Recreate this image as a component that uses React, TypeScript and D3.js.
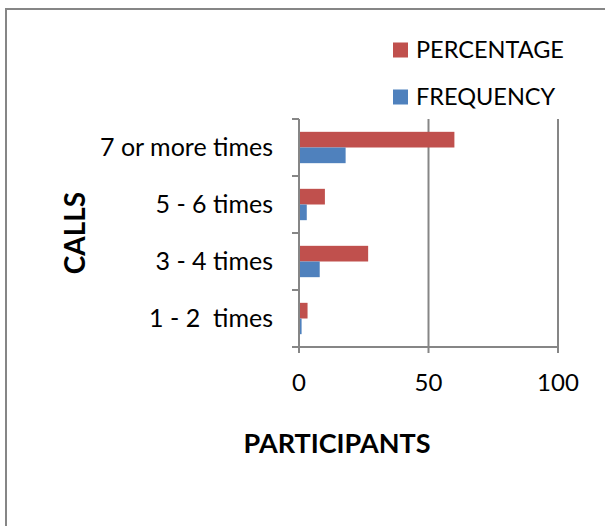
import * as d3 from 'd3';

const categories = ['7 or more times', '5 - 6 times', '3 - 4 times', '1 - 2  times'];
const seriesNames = ['PERCENTAGE', 'FREQUENCY'];
const percentage = [60, 10, 26.7, 3.3];
const frequency = [18, 3, 8, 1];
const xTicks = [0, 50, 100];

const W = 605;
const H = 526;
const colors = ['#C0504D', '#4F81BD'];
const gray = '#868686';
const font = 'Lato, "Open Sans", sans-serif';

export default function App() {
  const x = d3.scaleLinear().domain([0, 100]).range([299, 558]);
  const y = d3.scaleBand().domain(categories).range([119, 347]).paddingInner(0.45).paddingOuter(0.225);
  const inner = d3.scaleBand().domain(seriesNames).range([0, y.bandwidth()]);
  const step = y.step();
  const top = 119;
  const bottom = 347;
  const values = [percentage, frequency];

  return (
    <svg width={W} height={H} style={{ position: 'absolute', left: 0, top: 0 }} fontFamily={font}>
      <rect x={0} y={0} width={W} height={H} fill="#fff" />
      <rect x={6} y={9} width={W + 10} height={H + 10} fill="none" stroke={gray} strokeWidth={2} />

      {/* gridlines */}
      {xTicks.slice(1).map((t) => (
        <line key={t} x1={x(t)} x2={x(t)} y1={top} y2={bottom} stroke={gray} strokeWidth={2} />
      ))}

      {/* bars */}
      {categories.map((c, i) =>
        seriesNames.map((s, j) => (
          <rect
            key={c + s}
            x={x(0)}
            y={(y(c) as number) + (inner(s) as number)}
            width={x(values[j][i]) - x(0)}
            height={inner.bandwidth()}
            fill={colors[j]}
          />
        ))
      )}

      {/* y axis */}
      <line x1={x(0)} x2={x(0)} y1={top} y2={bottom + 6} stroke={gray} strokeWidth={2} />
      {d3.range(categories.length + 1).map((k) => (
        <line key={k} x1={x(0) - 7} x2={x(0)} y1={top + k * step} y2={top + k * step} stroke={gray} strokeWidth={2} />
      ))}
      {/* x axis */}
      <line x1={x(0) - 7} x2={x(100)} y1={bottom} y2={bottom} stroke={gray} strokeWidth={2} />
      {xTicks.map((t) => (
        <line key={t} x1={x(t)} x2={x(t)} y1={bottom} y2={bottom + 6} stroke={gray} strokeWidth={2} />
      ))}

      {/* category labels */}
      {categories.map((c) => (
        <text
          key={c}
          x={273}
          y={(y(c) as number) + y.bandwidth() / 2 - 1.5}
          textAnchor="end"
          dominantBaseline="central"
          fontSize={25}
          fill="#000"
          style={{ whiteSpace: 'pre' }}
        >
          {c}
        </text>
      ))}

      {/* x tick labels */}
      {xTicks.map((t) => (
        <text key={t} x={x(t)} y={381} textAnchor="middle" dominantBaseline="central" fontSize={24} fill="#000">
          {t}
        </text>
      ))}

      {/* axis titles */}
      <text x={337} y={442} textAnchor="middle" dominantBaseline="central" fontSize={27} fontWeight="bold" fill="#000">
        PARTICIPANTS
      </text>
      <text
        transform="translate(74,233) rotate(-90)"
        textAnchor="middle"
        dominantBaseline="central"
        fontSize={28}
        fontWeight="bold"
        fill="#000"
      >
        CALLS
      </text>

      {/* legend */}
      {seriesNames.map((s, j) => (
        <g key={s} transform={`translate(393,${50 + j * 47})`}>
          <rect x={0} y={-7.5} width={15} height={15} fill={colors[j]} />
          <text x={23} y={-1} dominantBaseline="central" fontSize={23.5} fill="#000">
            {s}
          </text>
        </g>
      ))}
    </svg>
  );
}
